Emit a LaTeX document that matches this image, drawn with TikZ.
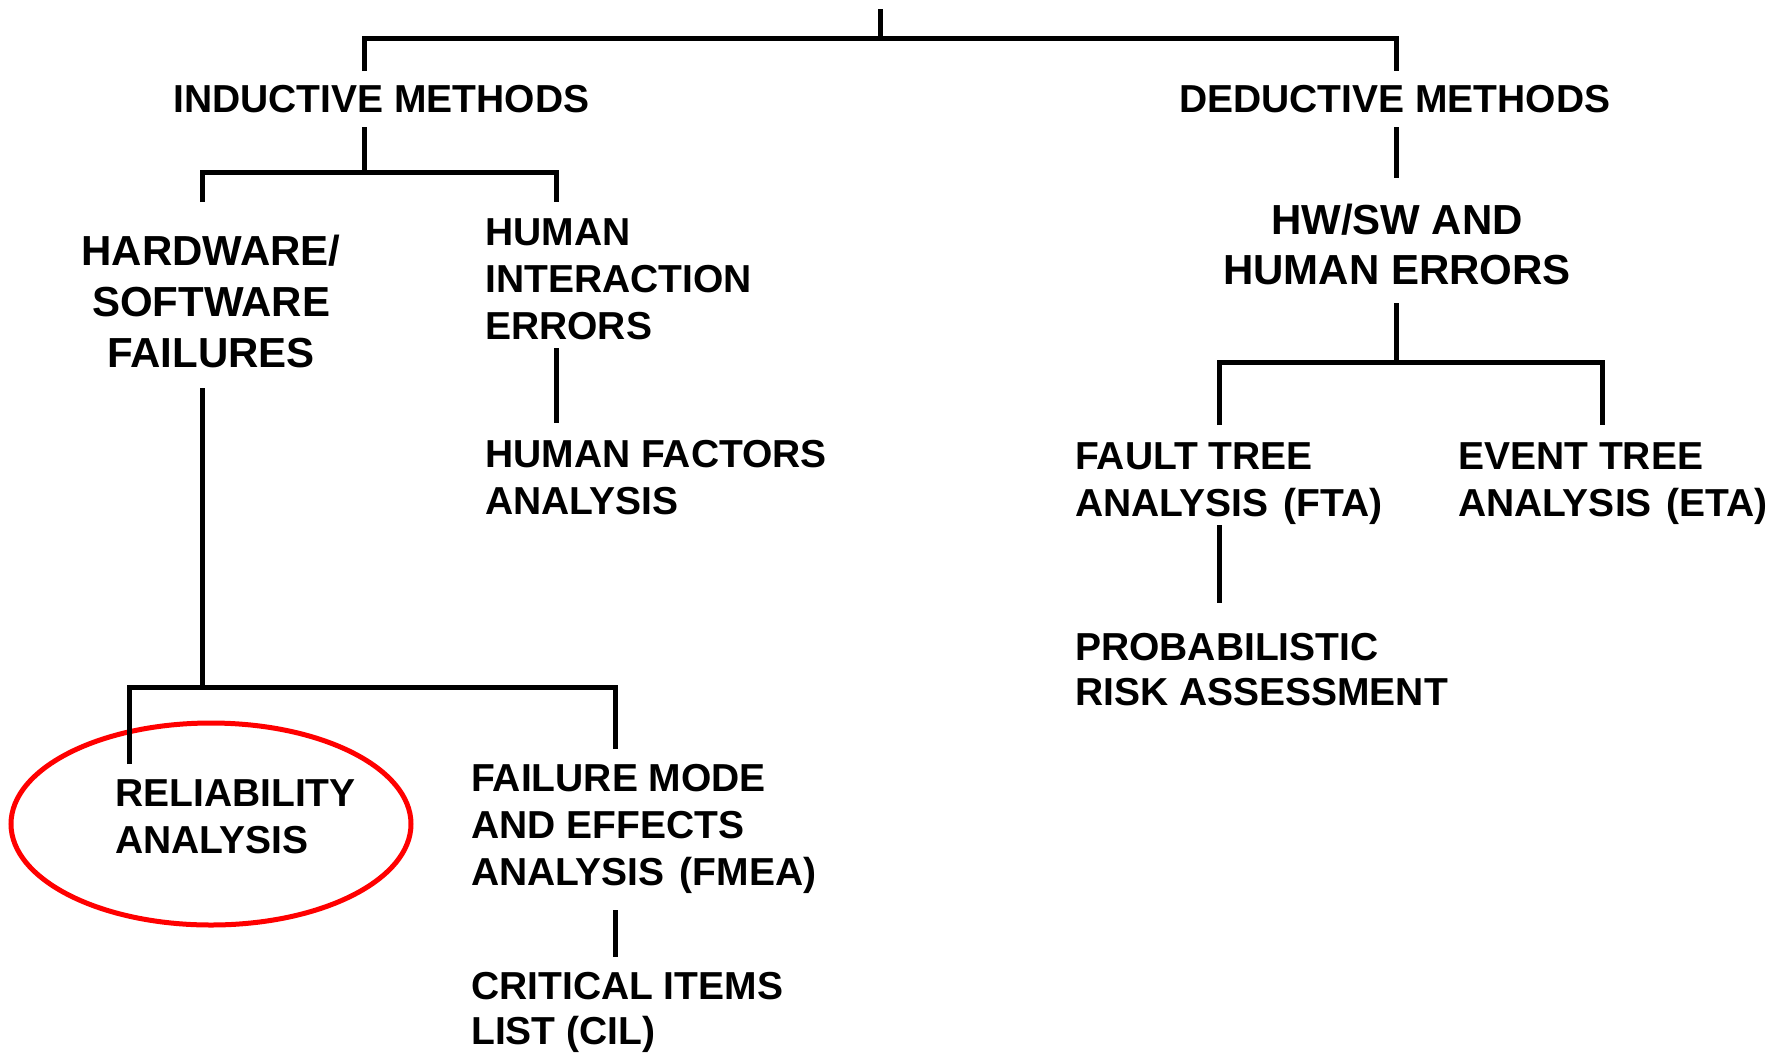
\documentclass[tikz,border=0pt]{standalone}
\usepackage{fontspec}
\setmainfont{Liberation Sans}
\newcommand{\wsp}{\hspace{15pt}}
\begin{document}
\begin{tikzpicture}[x=1pt,y=-1pt,
  conn/.style={line width=5pt, line join=miter, line cap=butt},
  lbl/.style={font=\fontsize{39}{47}\selectfont\bfseries, inner sep=0pt, align=left, anchor=north west},
  big/.style={font=\fontsize{42}{51}\selectfont\bfseries, inner sep=0pt, align=center, anchor=north},
  hl/.style={draw=red, line width=5pt}]
\useasboundingbox (0,0) rectangle (1785,1053);

% text nodes
\node[lbl] (ind) at (173,85) {INDUCTIVE METHODS};
\node[lbl] (ded) at (1179,85) {DEDUCTIVE METHODS};
\node[big] (hw) at (211,235) {HARDWARE/\\SOFTWARE\\FAILURES};
\node[lbl] (hie) at (485,218) {HUMAN\\INTERACTION\\ERRORS};
\node[lbl] (hfa) at (485,440) {HUMAN FACTORS\\ANALYSIS};
\node[big, font=\fontsize{42}{50}\selectfont\bfseries] (hwsw) at (1397,204) {HW/SW AND\\HUMAN ERRORS};
\node[lbl] (fta) at (1075,442) {FAULT TREE\\ANALYSIS\wsp(FTA)};
\node[lbl] (eta) at (1458,442) {EVENT TREE\\ANALYSIS\wsp(ETA)};
\node[lbl, font=\fontsize{39}{45}\selectfont\bfseries] (pra) at (1075,633) {PROBABILISTIC\\RISK ASSESSMENT};
\node[lbl] (rel) at (115,779) {RELIABILITY\\ANALYSIS};
\node[lbl] (fmea) at (471,764) {FAILURE MODE\\AND EFFECTS\\ANALYSIS\wsp(FMEA)};
\node[lbl, font=\fontsize{39}{45}\selectfont\bfseries] (cil) at (471,972) {CRITICAL ITEMS\\LIST (CIL)};

% highlight ellipse
\coordinate (relc) at (211,824);
\draw[hl] (relc) ellipse [x radius=200, y radius=101];

% connector end points
\coordinate (root) at (880,9);
\coordinate (j1) at (880,38);
\coordinate (indin) at (364,71);
\coordinate (dedin) at (1396,71);
\coordinate (indout) at (364,127);
\coordinate (j2) at (364,172);
\coordinate (hwin) at (202,202);
\coordinate (hiein) at (556,202);
\coordinate (hwout) at (202,388);
\coordinate (j3) at (202,687);
\coordinate (relin) at (129,764);
\coordinate (fmeain) at (615,749);
\coordinate (hieout) at (556,348);
\coordinate (hfain) at (556,423);
\coordinate (dedout) at (1396,127);
\coordinate (hwswin) at (1396,178);
\coordinate (hwswout) at (1396,303);
\coordinate (j4) at (1396,362);
\coordinate (ftain) at (1219,425);
\coordinate (etain) at (1602,425);
\coordinate (ftaout) at (1219,525);
\coordinate (prain) at (1219,603);
\coordinate (fmeaout) at (615,910);
\coordinate (cilin) at (615,957);

% connectors
\draw[conn] (root) -- (j1);
\draw[conn] (indin) |- (j1) -| (dedin);
\draw[conn] (indout) -- (j2);
\draw[conn] (hwin) |- (j2) -| (hiein);
\draw[conn] (hwout) -- (j3);
\draw[conn] (relin) |- (j3) -| (fmeain);
\draw[conn] (hieout) -- (hfain);
\draw[conn] (dedout) -- (hwswin);
\draw[conn] (hwswout) -- (j4);
\draw[conn] (ftain) |- (j4) -| (etain);
\draw[conn] (ftaout) -- (prain);
\draw[conn] (fmeaout) -- (cilin);
\end{tikzpicture}
\end{document}
